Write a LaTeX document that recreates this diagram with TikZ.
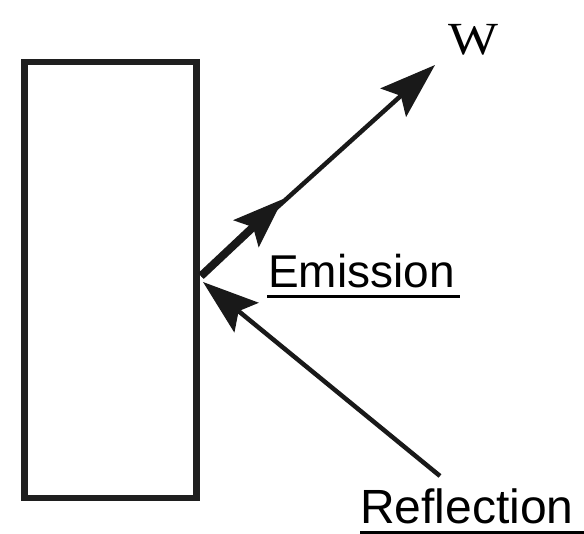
\documentclass[tikz,border=0pt]{standalone}
\usepackage{fontspec}
\newfontfamily\arialfont{Liberation Sans}
\newfontfamily\timesfont{Liberation Serif}
\usetikzlibrary{arrows.meta}
\tikzset{
  ray/.style={line width=4.5pt, draw=black!90},
  bighead/.style={-{Stealth[length=56pt,width=38pt,inset=10pt]}},
  midhead/.style={-{Stealth[length=50pt,width=36pt,inset=9pt]}},
  lbl/.style={font=\arialfont\fontsize{46}{50}\selectfont, inner sep=0pt, anchor=base west},
  uline/.style={line width=3pt}
}
\begin{document}
\begin{tikzpicture}[x=1pt,y=-1pt]
\useasboundingbox (0,0) rectangle (584,534);
% box
\node[draw=black!88, line width=6.5pt, minimum width=172pt, minimum height=436pt, inner sep=0pt] (box) at (110.5,280) {};
\coordinate (O) at (201,276);
\coordinate (Wtip) at (435,65);
\coordinate (Mtip) at (283,199);
\coordinate (Rstart) at (440,476);
\coordinate (Rtip) at (203,282);
% emission ray
\draw[ray, bighead] (O) -- (Wtip);
\draw[line width=8pt, midhead, draw=black!90] (O) -- (Mtip);
% reflection ray
\draw[ray, bighead] (Rstart) -- (Rtip);
% labels
\node[font=\timesfont\fontsize{46}{50}\selectfont, inner sep=0pt, xscale=1.15, transform shape] (W) at (473,40) {W};
\node[lbl] (em) at (268,288) {Emission};
\node[lbl, font=\arialfont\fontsize{48}{52}\selectfont] (re) at (360,523) {Reflection};
\draw[uline] (267,297) -- (460,297);
\draw[uline] (360,532.5) -- (584,532.5);
\end{tikzpicture}
\end{document}
